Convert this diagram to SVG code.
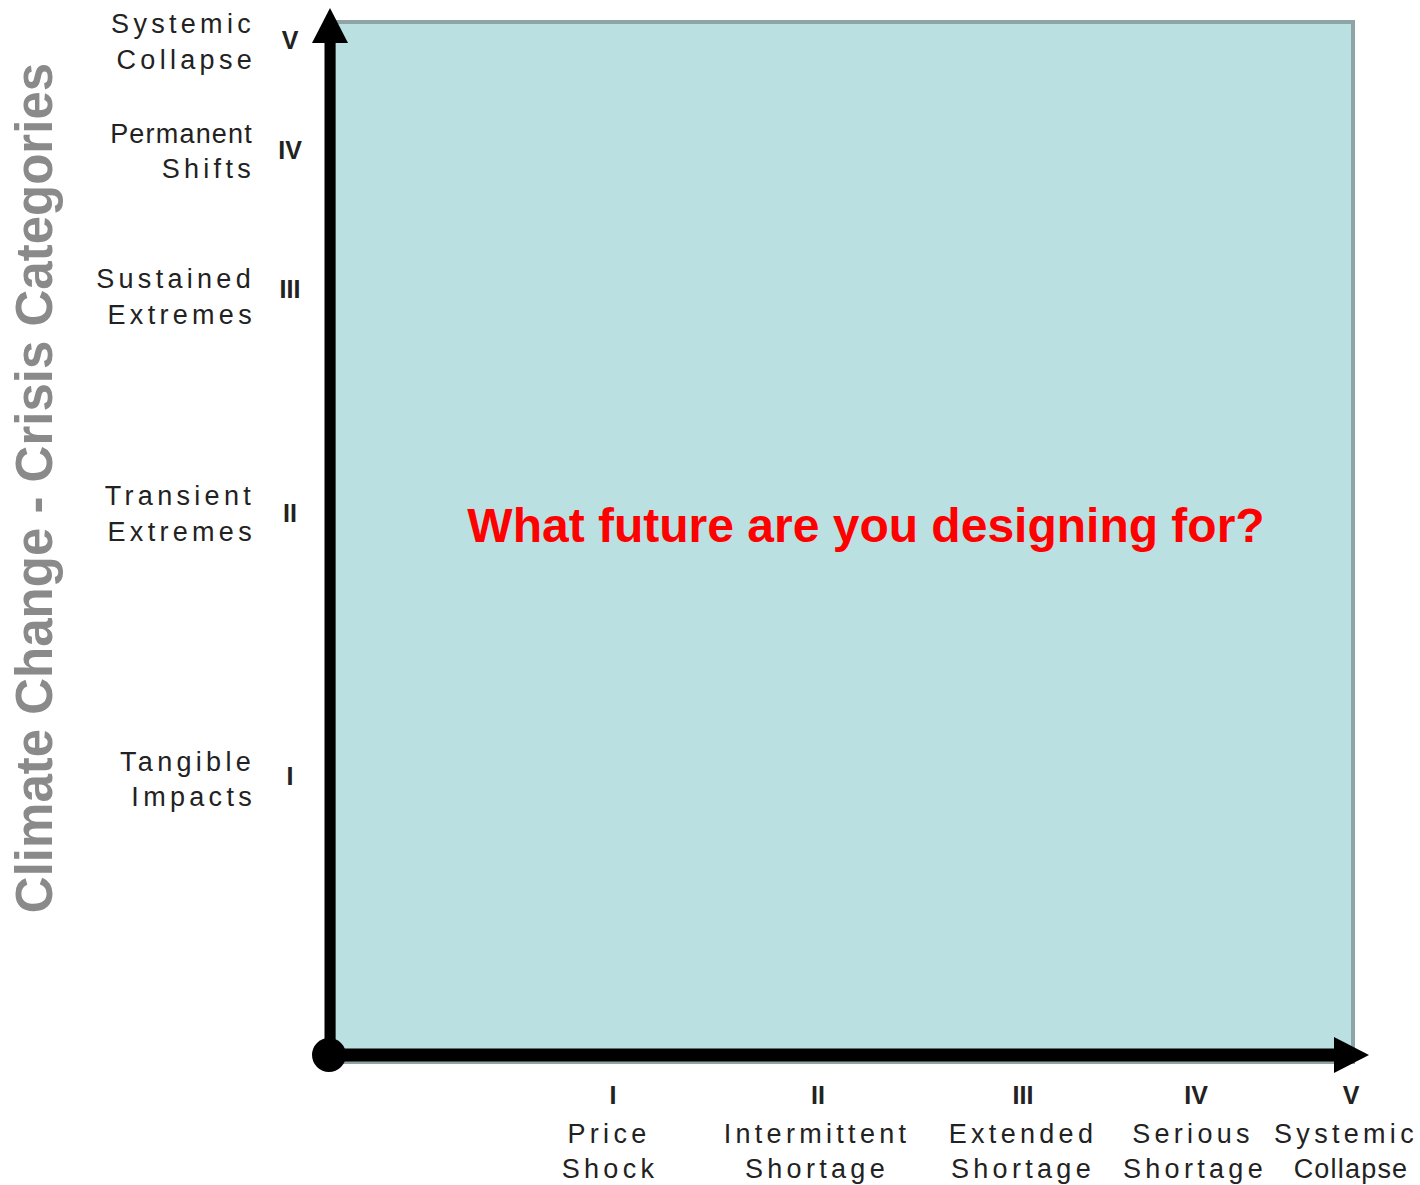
<svg xmlns="http://www.w3.org/2000/svg" width="1420" height="1185" viewBox="0 0 1420 1185">
<style>
.lbl{font-family:"Liberation Sans",Arial,sans-serif;font-size:27px;fill:#222;letter-spacing:4.3px}
.ly{text-anchor:end}
.lx{text-anchor:middle}
.tight{letter-spacing:1.2px}
.num{font-family:"Liberation Sans",Arial,sans-serif;font-size:25px;font-weight:bold;fill:#222;text-anchor:middle}
</style>
<rect width="1420" height="1185" fill="#ffffff"/>
<g id="plot-area">
<rect x="334" y="22" width="1019" height="1040" fill="#bae0e2" stroke="#8fa4a5" stroke-width="4"/>
</g>
<g id="connectors">
<line x1="330" y1="1055" x2="330" y2="40" stroke="#000" stroke-width="11"/>
<polygon points="330,8 312,43 348,43" fill="#000"/>
<line x1="330" y1="1055" x2="1338" y2="1055" stroke="#000" stroke-width="13"/>
<polygon points="1369,1055 1334,1037 1334,1073" fill="#000"/>
<circle cx="329" cy="1055" r="17" fill="#000"/>
</g>
<g id="y-title">
<text transform="translate(52,488) rotate(-90)" text-anchor="middle" font-family="'Liberation Sans',Arial,sans-serif" font-size="51" font-weight="bold" fill="#8a8a8a">Climate Change - Crisis Categories</text>
</g>
<g id="y-labels">
<text class="lbl ly" x="255" y="33">Systemic</text>
<text class="lbl ly" x="256" y="69">Collapse</text>
<text class="num" x="290" y="49">V</text>
<text class="lbl ly tight" x="253" y="143">Permanent</text>
<text class="lbl ly" x="255" y="178">Shifts</text>
<text class="num" x="290" y="159">IV</text>
<text class="lbl ly" x="255" y="288">Sustained</text>
<text class="lbl ly" x="256" y="324">Extremes</text>
<text class="num" x="290" y="298">III</text>
<text class="lbl ly" x="255" y="505">Transient</text>
<text class="lbl ly" x="256" y="541">Extremes</text>
<text class="num" x="290" y="522">II</text>
<text class="lbl ly" x="255" y="771">Tangible</text>
<text class="lbl ly" x="256" y="806">Impacts</text>
<text class="num" x="290" y="785">I</text>
</g>
<g id="x-labels">
<text class="num" x="613" y="1104">I</text>
<text class="lbl lx" x="609" y="1143">Price</text>
<text class="lbl lx" x="610" y="1178">Shock</text>
<text class="num" x="818" y="1104">II</text>
<text class="lbl lx" x="817" y="1143">Intermittent</text>
<text class="lbl lx" x="817" y="1178">Shortage</text>
<text class="num" x="1023" y="1104">III</text>
<text class="lbl lx" x="1023" y="1143">Extended</text>
<text class="lbl lx" x="1023" y="1178">Shortage</text>
<text class="num" x="1196" y="1104">IV</text>
<text class="lbl lx" x="1193" y="1143">Serious</text>
<text class="lbl lx" x="1195" y="1178">Shortage</text>
<text class="num" x="1351" y="1104">V</text>
<text class="lbl lx" x="1346" y="1143">Systemic</text>
<text class="lbl lx tight" x="1351" y="1178">Collapse</text>
</g>
<g id="question">
<text x="866" y="542" text-anchor="middle" font-family="'Liberation Sans',Arial,sans-serif" font-size="48" font-weight="bold" fill="#ff0000">What future are you designing for?</text>
</g>
</svg>
